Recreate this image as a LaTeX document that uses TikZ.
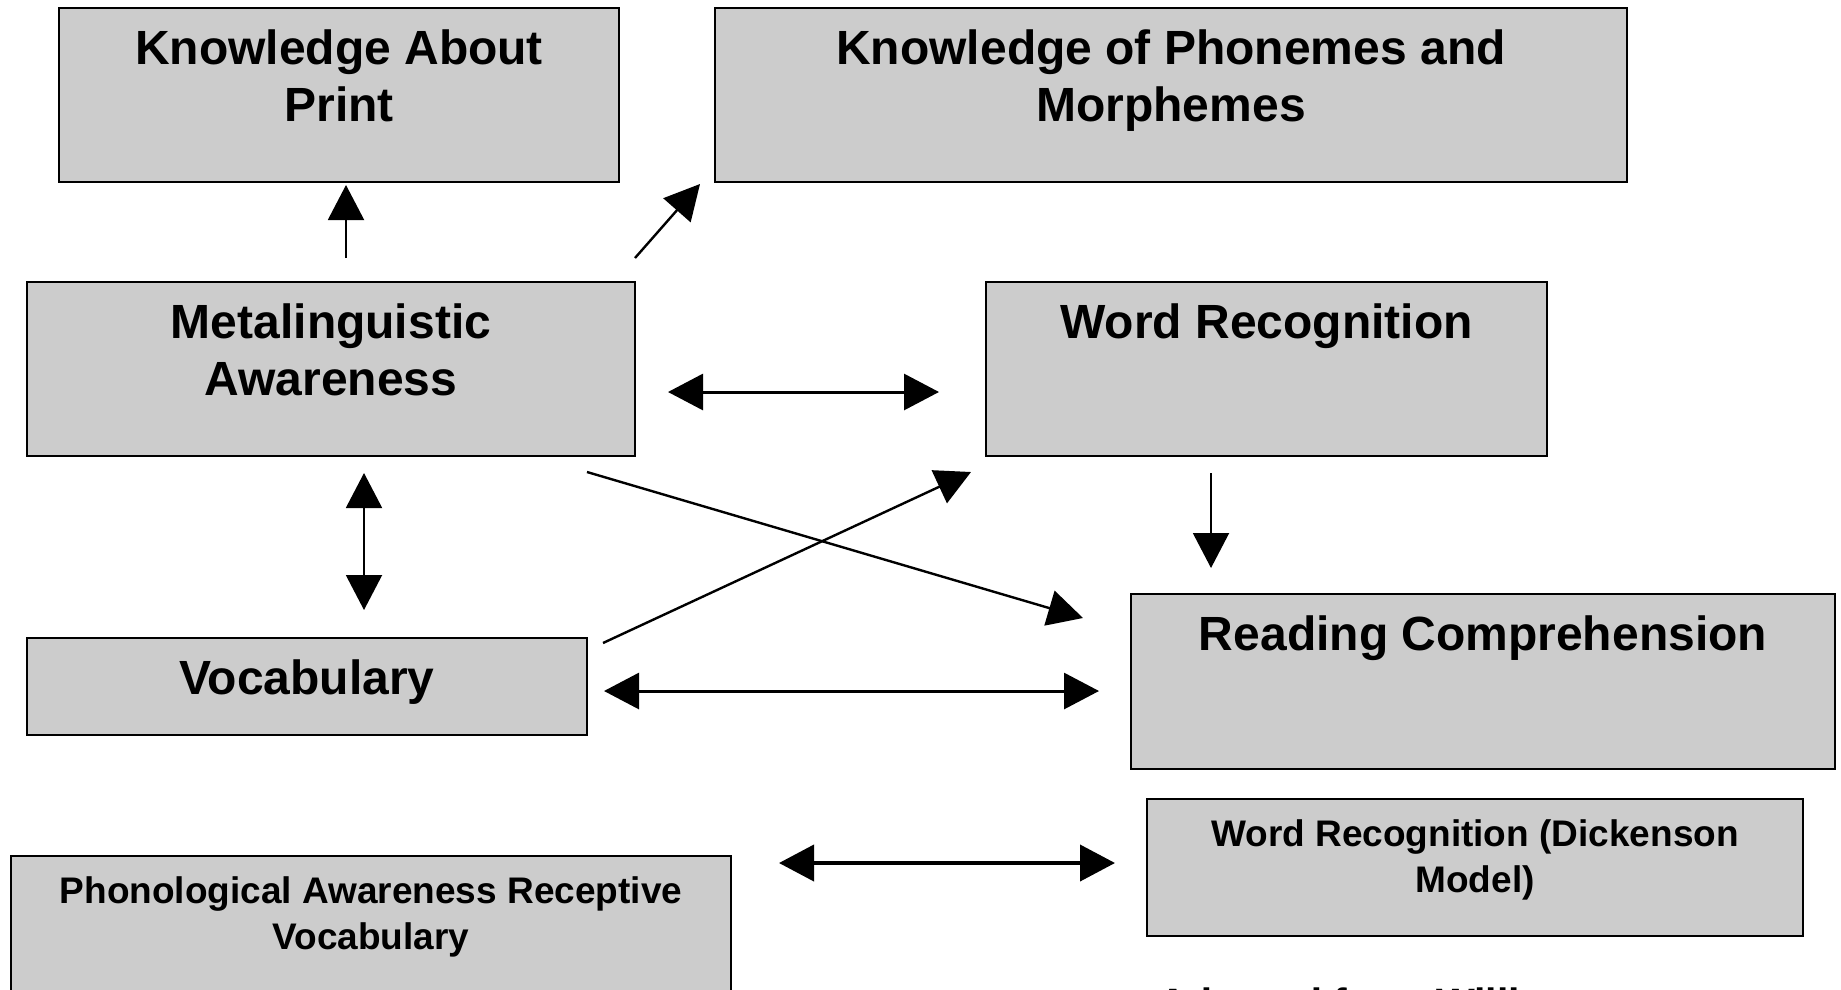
\documentclass[tikz,border=0pt]{standalone}
\usepackage{fontspec}
\setmainfont{Liberation Sans}
\usetikzlibrary{arrows.meta}
\definecolor{boxgray}{HTML}{CCCCCC}
\begin{document}
\begin{tikzpicture}[x=1pt,y=-1pt,
  box/.style={draw=black, line width=2pt, fill=boxgray, inner sep=0pt, outer sep=0pt, anchor=north west},
  bigtext/.style={font=\fontsize{48}{57}\selectfont\bfseries, align=center, inner sep=0pt, anchor=north},
  smalltext/.style={font=\fontsize{37}{46}\selectfont\bfseries, align=center, inner sep=0pt, anchor=north},
  >={Triangle[length=35pt,width=36pt]},
  oneway/.style={line width=2pt, ->},
  slant/.style={line width=2.4pt, ->},
  twoway/.style={line width=3pt, <->},
]
\useasboundingbox (0,0) rectangle (1841,989);
\clip (0,0) rectangle (1841,989);

% boxes
\node[box, minimum width=560pt, minimum height=174pt] (kap) at (59,8) {};
\node[box, minimum width=912pt, minimum height=174pt] (kpm) at (715,8) {};
\node[box, minimum width=608pt, minimum height=174pt] (meta) at (27,282) {};
\node[box, minimum width=561pt, minimum height=174pt] (wrec) at (986,282) {};
\node[box, minimum width=560pt, minimum height=97pt] (voc) at (27,638) {};
\node[box, minimum width=704pt, minimum height=175pt] (rc) at (1131,594) {};
\node[box, minimum width=656pt, minimum height=137pt] (wrd) at (1147,799) {};
\node[box, minimum width=720pt, minimum height=160pt] (pav) at (11,856) {};

% box titles
\node[bigtext] (kapT) at ([yshift=-21.5pt]kap.north) {Knowledge About\\Print};
\node[bigtext] (kpmT) at ([yshift=-21.5pt]kpm.north) {Knowledge of Phonemes and\\Morphemes};
\node[bigtext] (metaT) at ([yshift=-21.5pt]meta.north) {Metalinguistic\\Awareness};
\node[bigtext] (wrecT) at ([yshift=-21.5pt]wrec.north) {Word Recognition};
\node[bigtext] (vocT) at ([yshift=-21.5pt]voc.north) {Vocabulary};
\node[bigtext] (rcT) at ([yshift=-21.5pt]rc.north) {Reading Comprehension};
\node[smalltext] (wrdT) at ([yshift=-20pt]wrd.north) {Word Recognition (Dickenson\\Model)};
\node[smalltext] (pavT) at ([yshift=-20pt]pav.north) {Phonological Awareness Receptive\\Vocabulary};

% source line, running off the lower edge
\node[font=\fontsize{41}{48}\selectfont\bfseries, anchor=base west, inner sep=0pt] (src) at (1158,1017) {Adapted from Williams};

% connector ends
\coordinate (c1a) at (346,258);  \coordinate (c1b) at (346,185);
\coordinate (c2a) at (635,258);  \coordinate (c2b) at (700,184);
\coordinate (c3a) at (668,392);  \coordinate (c3b) at (939,392);
\coordinate (c4a) at (364,473);  \coordinate (c4b) at (364,610);
\coordinate (c5a) at (587,472);  \coordinate (c5b) at (1083,618);
\coordinate (c6a) at (603,643);  \coordinate (c6b) at (971,472);
\coordinate (c7a) at (1211,473); \coordinate (c7b) at (1211,568);
\coordinate (c8a) at (604,691);  \coordinate (c8b) at (1099,691);
\coordinate (c9a) at (779,863);  \coordinate (c9b) at (1115,863);

% connectors
\draw[oneway] (c1a) -- (c1b);
\draw[slant] (c2a) -- (c2b);
\draw[twoway] (c3a) -- (c3b);
\draw[oneway, <->] (c4a) -- (c4b);
\draw[slant] (c5a) -- (c5b);
\draw[slant] (c6a) -- (c6b);
\draw[oneway] (c7a) -- (c7b);
\draw[twoway] (c8a) -- (c8b);
\draw[twoway, line width=4pt] (c9a) -- (c9b);
\end{tikzpicture}
\end{document}
